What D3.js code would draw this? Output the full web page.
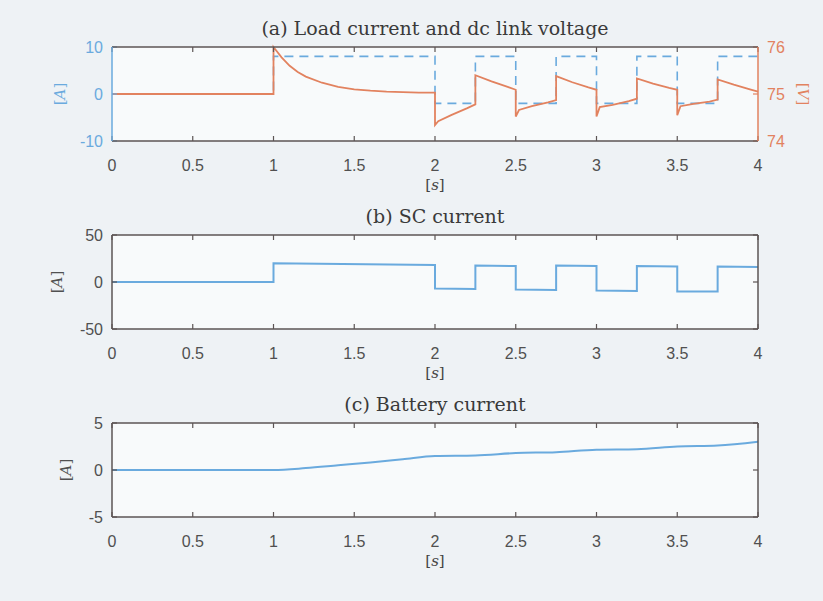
<!DOCTYPE html>
<html>
<head>
<meta charset="utf-8">
<script src="https://cdn.jsdelivr.net/npm/d3@7"></script>
<style>
  html,body{margin:0;padding:0;background:#eef2f5;}
  svg{display:block;}
  .tick-lbl{font-family:"Liberation Sans",Arial,sans-serif;font-size:16px;}
  .ttl{font-family:"DejaVu Serif",serif;font-size:19px;fill:#3a3a3a;}
  .unit{font-family:"DejaVu Serif",serif;font-size:15px;}
</style>
</head>
<body>
<svg id="fig" width="823" height="601"></svg>
<script>
/* ---------- data ----------------------------------------- */
const xTicks = [0,0.5,1,1.5,2,2.5,3,3.5,4];
const xTickLabels = ['0','0.5','1','1.5','2','2.5','3','3.5','4'];

// (a) load current, step values starting at each time
const loadT = [0,1,2,2.25,2.5,2.75,3,3.25,3.5,3.75,4];
const loadI = [0,8,-2,8,-2,8,-2,8,-2,8,8];

// (a) dc link voltage
const vT = [0,1,1,1.05,1.1,1.15,1.2,1.3,1.4,1.5,1.6,1.7,1.8,1.9,2,
            2,2.02,2.1,2.2,2.25,2.25,2.35,2.45,2.5,
            2.5,2.52,2.6,2.7,2.75,2.75,2.85,2.95,3,
            3,3.02,3.1,3.2,3.25,3.25,3.35,3.45,3.5,
            3.5,3.52,3.6,3.7,3.75,3.75,3.85,3.95,4];
const vV = [75,75,76,75.78,75.6,75.47,75.37,75.24,75.15,75.1,75.07,75.05,75.04,75.03,75.03,
            74.34,74.42,74.55,74.7,74.78,75.4,75.27,75.15,75.09,
            74.52,74.66,74.74,74.82,74.87,75.38,75.25,75.14,75.09,
            74.52,74.72,74.77,74.85,74.9,75.33,75.22,75.13,75.09,
            74.55,74.74,74.79,74.84,74.88,75.31,75.2,75.1,75.05];

// (b) SC current
const scT = [0,1,1,2,2,2.25,2.25,2.5,2.5,2.75,2.75,3,3,3.25,3.25,3.5,3.5,3.75,3.75,4];
const scI = [0,0,20,18,-7,-7.5,17.5,17,-8,-8.5,17.5,17,-9,-9.5,17,16.5,-10,-10,16.5,16];

// (c) battery current
const batT = [0,0.5,1,1.2,1.4,1.6,1.8,2,2.25,2.5,2.75,3,3.25,3.5,3.75,4];
const batI = [0,0,0,0.2,0.5,0.8,1.15,1.5,1.55,1.8,1.9,2.15,2.2,2.5,2.6,3.0];

const yTicksA = [-10,0,10], yTicksV = [74,75,76];
const yTicksB = [-50,0,50], yTicksC = [-5,0,5];

/* ---------- colours ------------------------------------- */
const BLUE = '#6aaade', ORANGE = '#e2825f', AX = '#5c5454', LBL = '#505050';

/* ---------- layout -------------------------------------- */
const svg = d3.select('#fig');
const X0 = 112, X1 = 758;
const x = d3.scaleLinear().domain([0,4]).range([X0,X1]);

const panels = [
  {top:47,  bot:141, dom:[-10,10], ticks:yTicksA, title:'(a) Load current and dc link voltage', lblX:60},
  {top:235, bot:329, dom:[-50,50], ticks:yTicksB, title:'(b) SC current', lblX:57},
  {top:423, bot:517, dom:[-5,5],   ticks:yTicksC, title:'(c) Battery current', lblX:66}
];

panels.forEach((p,i) => {
  const g = svg.append('g');
  const y = d3.scaleLinear().domain(p.dom).range([p.bot,p.top]);
  p.y = y; p.g = g;

  g.append('rect')
    .attr('x',X0).attr('y',p.top).attr('width',X1-X0).attr('height',p.bot-p.top)
    .attr('fill','#f8fafb');

  p.leftCol  = i===0 ? BLUE : AX;
  p.rightCol = i===0 ? ORANGE : AX;
  p.lblCol   = i===0 ? BLUE : LBL;
});

/* ---------- data lines ---------------------------------- */
const lineFrom = (T,V,xs,ys,curve) => d3.line()
  .x((d,i)=>xs(T[i])).y(d=>ys(d)).curve(curve||d3.curveLinear)(V);

// (a)
{
  const p = panels[0];
  const yv = d3.scaleLinear().domain([74,76]).range([p.bot,p.top]);
  p.yv = yv;
  p.g.append('path')
    .attr('d', lineFrom(loadT,loadI,x,p.y,d3.curveStepAfter))
    .attr('fill','none').attr('stroke',BLUE).attr('stroke-width',1.6)
    .attr('stroke-dasharray','9,6');
  p.g.append('path')
    .attr('d', lineFrom(vT,vV,x,yv))
    .attr('fill','none').attr('stroke',ORANGE).attr('stroke-width',1.8);
}
// (b)
panels[1].g.append('path')
  .attr('d', lineFrom(scT,scI,x,panels[1].y))
  .attr('fill','none').attr('stroke',BLUE).attr('stroke-width',2);
// (c)
panels[2].g.append('path')
  .attr('d', lineFrom(batT,batI,x,panels[2].y,d3.curveMonotoneX))
  .attr('fill','none').attr('stroke',BLUE).attr('stroke-width',2);

/* ---------- axes, ticks, labels -------------------------- */
panels.forEach((p,i) => {
  const g = p.g, TL = 5;

  // x ticks (bottom + top, inward)
  xTicks.forEach((t,k) => {
    g.append('line').attr('x1',x(t)).attr('x2',x(t)).attr('y1',p.bot).attr('y2',p.bot-TL)
      .attr('stroke',AX).attr('stroke-width',1.2);
    g.append('line').attr('x1',x(t)).attr('x2',x(t)).attr('y1',p.top).attr('y2',p.top+TL)
      .attr('stroke',AX).attr('stroke-width',1.2);
    g.append('text').attr('class','tick-lbl')
      .attr('x',x(t)).attr('y',p.bot+30).attr('text-anchor','middle')
      .attr('fill',LBL).text(xTickLabels[k]);
  });

  // y ticks (left + right)
  p.ticks.forEach(v => {
    g.append('line').attr('x1',X0).attr('x2',X0+TL).attr('y1',p.y(v)).attr('y2',p.y(v))
      .attr('stroke',p.leftCol).attr('stroke-width',1.2);
    g.append('text').attr('class','tick-lbl')
      .attr('x',X0-9).attr('y',p.y(v)).attr('dy','.35em').attr('text-anchor','end')
      .attr('fill',p.lblCol).text(v);
    if(i>0)
      g.append('line').attr('x1',X1).attr('x2',X1-TL).attr('y1',p.y(v)).attr('y2',p.y(v))
        .attr('stroke',AX).attr('stroke-width',1.2);
  });

  // right axis of (a)
  if(i===0){
    yTicksV.forEach(v => {
      g.append('line').attr('x1',X1).attr('x2',X1-TL).attr('y1',p.yv(v)).attr('y2',p.yv(v))
        .attr('stroke',ORANGE).attr('stroke-width',1.2);
      g.append('text').attr('class','tick-lbl')
        .attr('x',X1+9).attr('y',p.yv(v)).attr('dy','.35em')
        .attr('fill',ORANGE).text(v);
    });
    const vl = g.append('text').attr('class','unit')
      .attr('transform',`translate(803,${(p.top+p.bot)/2}) rotate(90)`)
      .attr('text-anchor','middle').attr('dy','.35em').attr('fill',ORANGE);
    vl.append('tspan').text('[');
    vl.append('tspan').attr('font-style','italic').text('V');
    vl.append('tspan').text(']');
  }

  // box
  g.append('line').attr('x1',X0).attr('x2',X1).attr('y1',p.top).attr('y2',p.top).attr('stroke',AX).attr('stroke-width',1.5);
  g.append('line').attr('x1',X0).attr('x2',X1).attr('y1',p.bot).attr('y2',p.bot).attr('stroke',AX).attr('stroke-width',1.5);
  g.append('line').attr('x1',X0).attr('x2',X0).attr('y1',p.top).attr('y2',p.bot).attr('stroke',p.leftCol).attr('stroke-width',1.5);
  g.append('line').attr('x1',X1).attr('x2',X1).attr('y1',p.top).attr('y2',p.bot).attr('stroke',p.rightCol).attr('stroke-width',1.5);

  // y label
  const yl = g.append('text').attr('class','unit')
    .attr('transform',`translate(${p.lblX},${(p.top+p.bot)/2}) rotate(-90)`)
    .attr('text-anchor','middle').attr('dy','.35em').attr('fill',p.lblCol);
  yl.append('tspan').text('[');
  yl.append('tspan').attr('font-style','italic').text('A');
  yl.append('tspan').text(']');

  // x label
  const xl = g.append('text').attr('class','unit')
    .attr('x',(X0+X1)/2).attr('y',p.bot+49).attr('text-anchor','middle').attr('fill','#444');
  xl.append('tspan').text('[');
  xl.append('tspan').attr('font-style','italic').text('s');
  xl.append('tspan').text(']');

  // title
  g.append('text').attr('class','ttl')
    .attr('x',(X0+X1)/2).attr('y',p.top-12).attr('text-anchor','middle')
    .text(p.title);
});
</script>
</body>
</html>
